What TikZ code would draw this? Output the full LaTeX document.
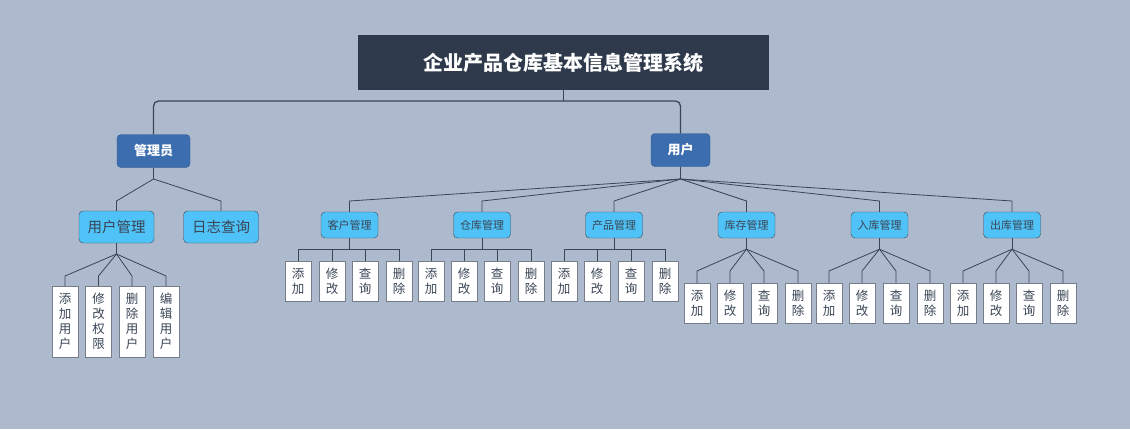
\documentclass[tikz,border=0pt]{standalone}
\usepackage{fontspec}
\usetikzlibrary{calc}
\setmainfont{Noto Sans CJK SC}
\definecolor{bg}{HTML}{ADB9CD}
\definecolor{ttl}{HTML}{2E3A4B}
\definecolor{mid}{HTML}{3C6EAF}
\definecolor{lite}{HTML}{4FC3F7}
\definecolor{ln}{HTML}{3A4556}
\begin{document}
\begin{tikzpicture}[x=1pt,y=-1pt,
  titlebox/.style={fill=ttl,text=white,font=\bfseries\fontsize{20}{22}\selectfont,minimum width=411pt,minimum height=55pt,inner sep=0pt},
  midbox/.style={fill=mid,draw=mid!80!black,rounded corners=4pt,text=white,font=\bfseries\fontsize{13}{15}\selectfont,minimum height=33pt,inner sep=0pt},
  subbig/.style={fill=lite,draw=ln,rounded corners=4pt,text=ln,font=\fontsize{14.5}{16}\selectfont,minimum width=75pt,minimum height=32pt,inner sep=0pt},
  sub/.style={fill=lite,draw=ln,rounded corners=4pt,text=ln,font=\fontsize{11}{13}\selectfont,minimum width=57pt,minimum height=26pt,inner sep=0pt},
  leaf/.style={fill=white,draw=ln!70,text=ln,font=\fontsize{12.5}{15}\selectfont,minimum width=26pt,inner sep=0pt,align=center},
  conn/.style={draw=ln,line width=0.8pt}]
\fill[bg] (0,0) rectangle (1130,429);
\useasboundingbox (0,0) rectangle (1130,429);
\node[titlebox] (T) at (563.5,62.5) {企业产品仓库基本信息管理系统};
\node[midbox,minimum width=73pt] (A) at (153.5,151) {管理员};
\node[midbox,minimum width=59pt] (U) at (680.5,150) {用户};
\draw[conn,line width=1.3pt] (T.south) -- (563.5,101);
\draw[conn,line width=1.3pt,rounded corners=5pt] (A.north) |- (563.5,101) -| (U.north);
% admin
\coordinate (aj) at (153.5,179);
\draw[conn] (A.south) -- (aj);
\node[subbig] (UM) at (116.5,227) {用户管理};
\node[subbig] (LQ) at (221,227) {日志查询};
\draw[conn] (aj) -- (116.5,201) -- (UM.north);
\draw[conn] (aj) -- (221,201) -- (LQ.north);
\coordinate (uj) at (116.5,254);
\draw[conn] (UM.south) -- (uj);
\foreach \x/\t [count=\i] in {65/添\\加\\用\\户,98.5/修\\改\\权\\限,132/删\\除\\用\\户,166/编\\辑\\用\\户}{
  \node[leaf,minimum height=71pt] (ul\i) at (\x,321.5) {\t};
  \draw[conn] (uj) -- (\x,276) -- (ul\i.north);
}
% user
\coordinate (rj) at (680.5,179);
\draw[conn] (U.south) -- (rj);
\foreach \x/\t/\k in {349.5/客户管理/1,482/仓库管理/2,614/产品管理/3,746.5/库存管理/4,879.5/入库管理/5,1012/出库管理/6}{
  \node[sub] (s\k) at (\x,225) {\t};
  \draw[conn] (rj) -- (\x,201) -- (s\k.north);
}
% org-chart groups
\foreach \k/\a/\b/\c/\d in {1/298/332/365/399,2/431/464/497/531,3/564/597/631/665}{
  \draw[conn] (s\k.south) -- ++(0,11);
  \draw[conn] (\a,249) -- (\d,249);
  \foreach \x/\t [count=\j] in {\a/添\\加,\b/修\\改,\c/查\\询,\d/删\\除}{
    \node[leaf,minimum height=40pt] (l\k\j) at (\x,281) {\t};
    \draw[conn] (\x,249) -- (l\k\j.north);
  }
}
% fan groups
\foreach \k/\a/\b/\c/\d in {4/697/730/764/798,5/829/862/896/930,6/963/996/1029/1063}{
  \coordinate (j\k) at ($(s\k.south)+(0,11)$);
  \draw[conn] (s\k.south) -- (j\k);
  \foreach \x/\t [count=\j] in {\a/添\\加,\b/修\\改,\c/查\\询,\d/删\\除}{
    \node[leaf,minimum height=40pt] (l\k\j) at (\x,303) {\t};
    \draw[conn] (j\k) -- (\x,271) -- (l\k\j.north);
  }
}
\end{tikzpicture}
\end{document}
